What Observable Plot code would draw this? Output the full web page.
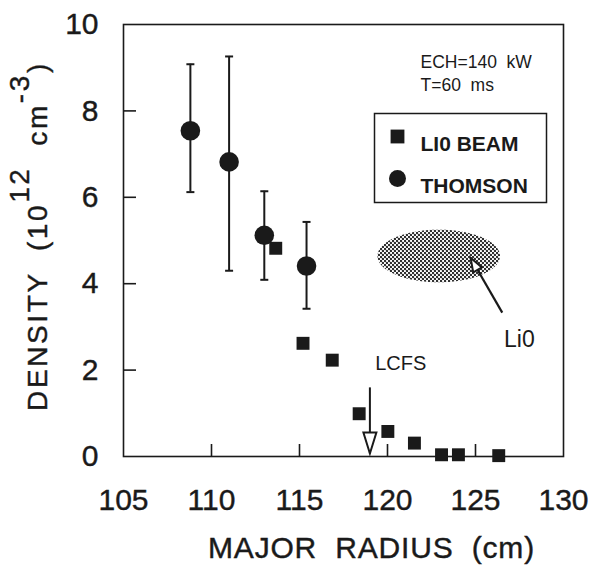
<!DOCTYPE html>
<html>
<head>
<meta charset="utf-8">
<script src="https://cdn.jsdelivr.net/npm/d3@7"></script>
<script src="https://cdn.jsdelivr.net/npm/@observablehq/plot@0.6"></script>
<style>
  html, body { margin: 0; padding: 0; background: #fff; }
  svg { font-family: "Liberation Sans", Arial, sans-serif; }
</style>
</head>
<body>
<div id="chart"></div>
<script>
// ---- data ----
const xTicks = [105, 110, 115, 120, 125, 130];
const yTicks = [0, 2, 4, 6, 8, 10];

const thomsonR    = [108.8, 111.0, 113.0, 115.4];
const thomsonN    = [7.54, 6.82, 5.12, 4.41];
const thomsonLow  = [6.12, 4.30, 4.09, 3.42];
const thomsonHigh = [9.08, 9.26, 6.14, 5.43];

const li0R = [113.65, 115.2, 116.86, 118.39, 120.02, 121.53, 123.07, 124.03, 126.32];
const li0N = [4.82, 2.62, 2.23, 0.99, 0.58, 0.31, 0.04, 0.04, 0.02];

const lcfsR = 119.0;              // last closed flux surface position
const lcfsArrow = [1.6, 0.07];    // arrow from / to (density units)
const li0Cloud = {cx: 122.94, cy: 4.63, rx: 3.48, ry: 0.61};
const li0Arrow = {x1: 126.52, y1: 3.33, x2: 124.72, y2: 4.60};

const legendLabels = ["LI0 BEAM", "THOMSON"];
const infoLines = ["ECH=140  kW", "T=60  ms"];

// ---- derived tables ----
const thomson = thomsonR.map((r, i) => ({r, n: thomsonN[i], lo: thomsonLow[i], hi: thomsonHigh[i]}));
const li0 = li0R.map((r, i) => ({r, n: li0N[i]}));
const ellipse = d3.range(0, 121).map(k => {
  const t = Math.PI * (1 - k / 120);
  return {
    x: li0Cloud.cx + li0Cloud.rx * Math.cos(t),
    y1: li0Cloud.cy - li0Cloud.ry * Math.sin(t),
    y2: li0Cloud.cy + li0Cloud.ry * Math.sin(t)
  };
});

const ink = "#1a1a1a";
const capSymbol = {draw(ctx, size) { const w = Math.sqrt(size / Math.PI); ctx.moveTo(-w, 0); ctx.lineTo(w, 0); }};
const headBig = {draw(ctx) { ctx.moveTo(0, 0); ctx.lineTo(-6.5, 21); ctx.lineTo(6.5, 21); ctx.closePath(); }};
const headSmall = {draw(ctx) { ctx.moveTo(0, 0); ctx.lineTo(-5, 14); ctx.lineTo(5, 14); ctx.closePath(); }};

const W = 592, H = 572, mL = 123, mR = 29, mT = 24, mB = 116;
const innerW = W - mL - mR, innerH = H - mT - mB;

const plot = Plot.plot({
  width: W, height: H,
  marginLeft: mL, marginRight: mR, marginTop: mT, marginBottom: mB,
  x: {domain: [105, 130]},
  y: {domain: [0, 10]},
  style: {fontFamily: "Liberation Sans, Arial, sans-serif", color: ink, background: "#fff"},
  marks: [
    // tick labels
    Plot.axisX({ticks: xTicks, tickSize: 0, tickPadding: 32, fontSize: 30, label: null, tickFormat: d => String(d), className: "heavy"}),
    Plot.axisY({ticks: yTicks, tickSize: 0, tickPadding: 25, fontSize: 30, label: null, tickFormat: d => String(d), className: "heavy"}),
    // inward ticks
    Plot.ruleX(xTicks.slice(1, -1), {x: d => d, insetTop: innerH - 12, stroke: ink, strokeWidth: 1.6}),
    Plot.ruleY(yTicks.slice(1, -1), {y: d => d, insetRight: innerW - 13, stroke: ink, strokeWidth: 1.6}),
    Plot.frame({stroke: ink, strokeWidth: 1.6}),
    // Li0 cloud
    Plot.areaY(ellipse, {x: "x", y1: "y1", y2: "y2", fill: "url(#halftone)"}),
    Plot.link([li0Arrow], {x1: "x1", y1: "y1", x2: "x2", y2: "y2", stroke: ink, strokeWidth: 2.2}),
    Plot.dot([li0Arrow], {x: "x2", y: "y2", symbol: headSmall, rotate: -30, r: 1, fill: "#fff", stroke: ink, strokeWidth: 2}),
    Plot.text([li0Arrow], {x: () => li0Cloud.cx + 4.55, y: () => li0Arrow.y1 - 0.8, text: () => "Li0", fontSize: 23, lineAnchor: "bottom", fill: ink}),
    // error bars
    Plot.ruleX(thomson, {x: "r", y1: "lo", y2: "hi", stroke: ink, strokeWidth: 2}),
    Plot.dot(thomson, {x: "r", y: "lo", symbol: capSymbol, r: 4, fill: "none", stroke: ink, strokeWidth: 2}),
    Plot.dot(thomson, {x: "r", y: "hi", symbol: capSymbol, r: 4, fill: "none", stroke: ink, strokeWidth: 2}),
    // data
    Plot.dot(li0, {x: "r", y: "n", symbol: "square", r: 7.3, fill: ink, stroke: "none"}),
    Plot.dot(thomson, {x: "r", y: "n", r: 9.8, fill: ink, stroke: "none"}),
    // LCFS arrow
    Plot.link([lcfsR], {x1: d => d, x2: d => d, y1: () => lcfsArrow[0], y2: () => lcfsArrow[1], stroke: ink, strokeWidth: 2}),
    Plot.dot([lcfsR], {x: d => d, y: () => lcfsArrow[1], symbol: headBig, rotate: 180, r: 1, fill: "#fff", stroke: ink, strokeWidth: 2}),
    Plot.text([lcfsR], {x: d => d + 1.75, y: () => 2.0, text: () => "LCFS", fontSize: 20, lineAnchor: "bottom", fill: ink}),
    // info text
    Plot.text([infoLines[0]], {frameAnchor: "top-left", dx: 297, dy: 43, text: d => d, fontSize: 17.5, textAnchor: "start", lineAnchor: "bottom", fill: ink}),
    Plot.text([infoLines[1]], {frameAnchor: "top-left", dx: 297, dy: 66, text: d => d, fontSize: 17.5, textAnchor: "start", lineAnchor: "bottom", fill: ink}),
    // legend
    Plot.frame({insetLeft: 251, insetTop: 89, insetRight: 17, insetBottom: 254, stroke: ink, strokeWidth: 1.5}),
    Plot.dot([legendLabels[0]], {frameAnchor: "top-left", dx: 274, dy: 112, symbol: "square", r: 7.8, fill: ink}),
    Plot.dot([legendLabels[1]], {frameAnchor: "top-left", dx: 274, dy: 154, r: 8.5, fill: ink}),
    Plot.text([legendLabels[0]], {frameAnchor: "top-left", dx: 297, dy: 112, text: d => d, fontSize: 21, fontWeight: "bold", textAnchor: "start", fill: ink}),
    Plot.text([legendLabels[1]], {frameAnchor: "top-left", dx: 297, dy: 154, text: d => d, fontSize: 21, fontWeight: "bold", textAnchor: "start", fill: ink}),
    // x axis title
    Plot.text(["MAJOR  RADIUS  (cm)"], {frameAnchor: "bottom", dx: 28, dy: 101, text: d => d, fontSize: 30, lineAnchor: "bottom", fill: ink, className: "xtitle"})
  ]
});

const svg = d3.select(plot);
// halftone pattern for the Li0 cloud
const pat = svg.insert("defs", ":first-child").append("pattern")
  .attr("id", "halftone").attr("patternUnits", "userSpaceOnUse")
  .attr("width", 4).attr("height", 4);
pat.append("rect").attr("width", 4).attr("height", 4).attr("fill", "#fff");
pat.append("circle").attr("cx", 1).attr("cy", 1).attr("r", 1.2).attr("fill", "#2a2a2a");
pat.append("circle").attr("cx", 3).attr("cy", 3).attr("r", 1.2).attr("fill", "#2a2a2a");

// preserve double spaces
svg.selectAll("text").style("white-space", "pre");
svg.selectAll(".heavy text, .xtitle text").attr("stroke", ink).attr("stroke-width", 0.4);
svg.selectAll(".xtitle text").style("letter-spacing", "0.8px");

// y axis title with superscripts
const yl = svg.append("text")
  .attr("transform", "translate(47,236) rotate(-90)")
  .attr("text-anchor", "middle")
  .attr("font-size", 28)
  .attr("fill", ink)
  .attr("stroke", ink).attr("stroke-width", 0.4)
  .style("letter-spacing", "2.6px")
  .style("white-space", "pre");
yl.append("tspan").text("DENSITY  (10");
yl.append("tspan").attr("dy", -18).text("12");
yl.append("tspan").attr("dy", 18).text("  cm");
yl.append("tspan").attr("dy", -18).text("-3");
yl.append("tspan").attr("dy", 18).text(")");

document.getElementById("chart").appendChild(plot);
</script>
</body>
</html>
